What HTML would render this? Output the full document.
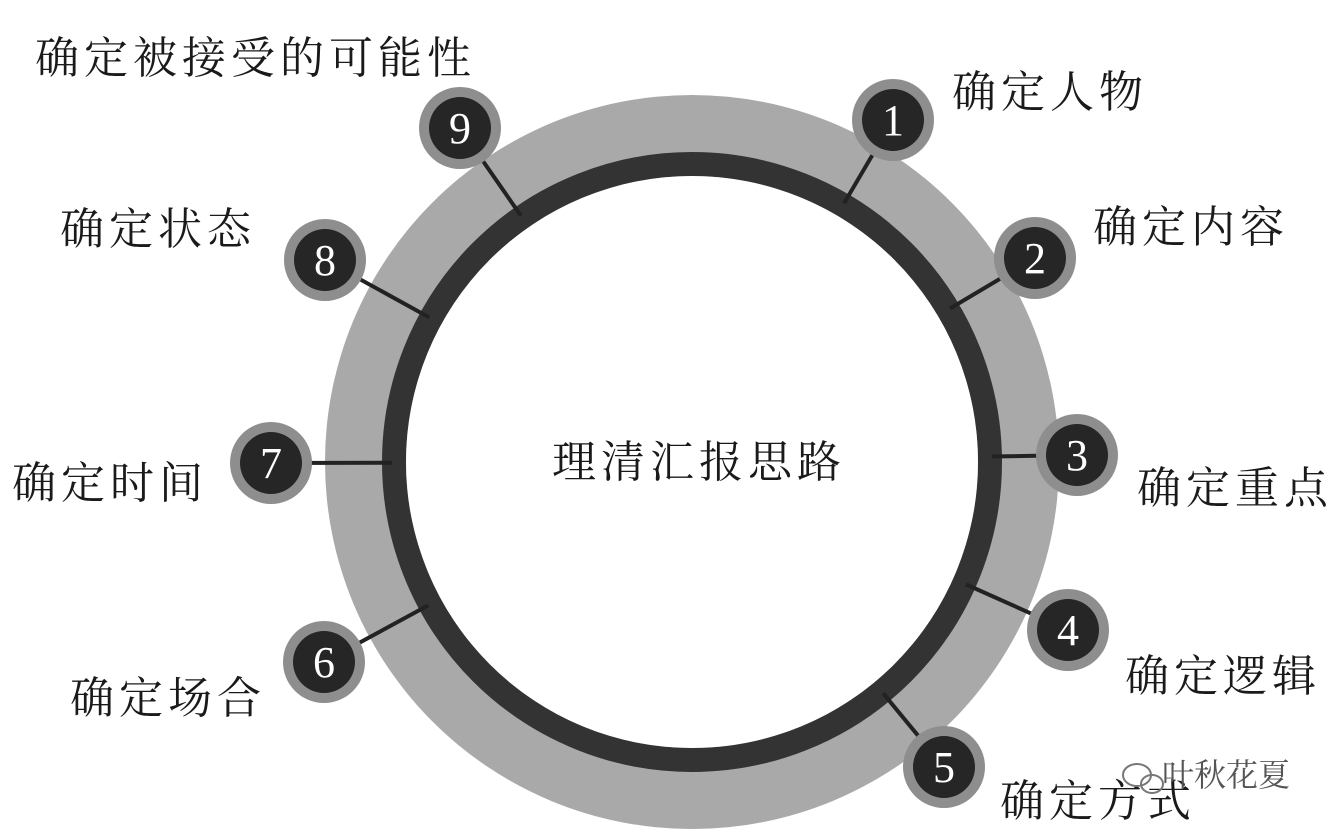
<!DOCTYPE html>
<html><head><meta charset="utf-8"><style>
html,body{margin:0;padding:0;background:#fff;}
svg{display:block;}
text{font-family:"Liberation Serif","Noto Serif CJK SC",serif;fill:#1a1a1a;}
</style></head><body>
<svg id="s" width="1342" height="836" viewBox="0 0 1342 836" xmlns="http://www.w3.org/2000/svg">
<circle cx="692" cy="462" r="367" fill="#a9a9a9"/>
<circle cx="692" cy="462" r="298" fill="none" stroke="#333" stroke-width="24"/>
<circle cx="692" cy="462" r="286" fill="#fff"/>
<g id="lines" stroke="#222" stroke-width="4"></g>
<g id="badges"></g>
<text x="699" y="477" font-size="44" letter-spacing="5" text-anchor="middle">理清汇报思路</text>
<g font-size="44" letter-spacing="5">
<text x="35" y="73">确定被接受的可能性</text>
<text x="952" y="107">确定人物</text>
<text x="1093" y="242">确定内容</text>
<text x="1137" y="503">确定重点</text>
<text x="1125" y="691">确定逻辑</text>
<text x="1000" y="816">确定方式</text>
<text x="70" y="713">确定场合</text>
<text x="12" y="498">确定时间</text>
<text x="60" y="244">确定状态</text>
</g>
<text x="1162" y="786" font-size="32" style="fill:#555">叶秋花夏</text>
<g fill="none" stroke="#777" stroke-width="2"><ellipse cx="1137" cy="775" rx="14" ry="11"/><ellipse cx="1152" cy="784" rx="11" ry="9"/></g>
</svg>
<script>
var B=[[1,893,120],[2,1035,258],[3,1077,455],[4,1068,630],[5,944,767],[6,324,662],[7,271,463],[8,325,260],[9,460,128]];
var ns="http://www.w3.org/2000/svg",L=document.getElementById('lines'),G=document.getElementById('badges');
function el(t,a,p){var e=document.createElementNS(ns,t);for(var k in a)e.setAttribute(k,a[k]);p.appendChild(e);return e;}
B.forEach(function(b){var dx=b[1]-692,dy=b[2]-462,d=Math.hypot(dx,dy),r=300;
el('line',{x1:b[1],y1:b[2],x2:692+dx*r/d,y2:462+dy*r/d},L);
el('circle',{cx:b[1],cy:b[2],r:41,fill:'#8e8e8e'},G);
el('circle',{cx:b[1],cy:b[2],r:31,fill:'#262626'},G);
var t=el('text',{x:b[1],y:b[2]+15,'font-size':'44','text-anchor':'middle',style:'fill:#fff'},G);t.textContent=b[0];});
</script>
</body></html>
